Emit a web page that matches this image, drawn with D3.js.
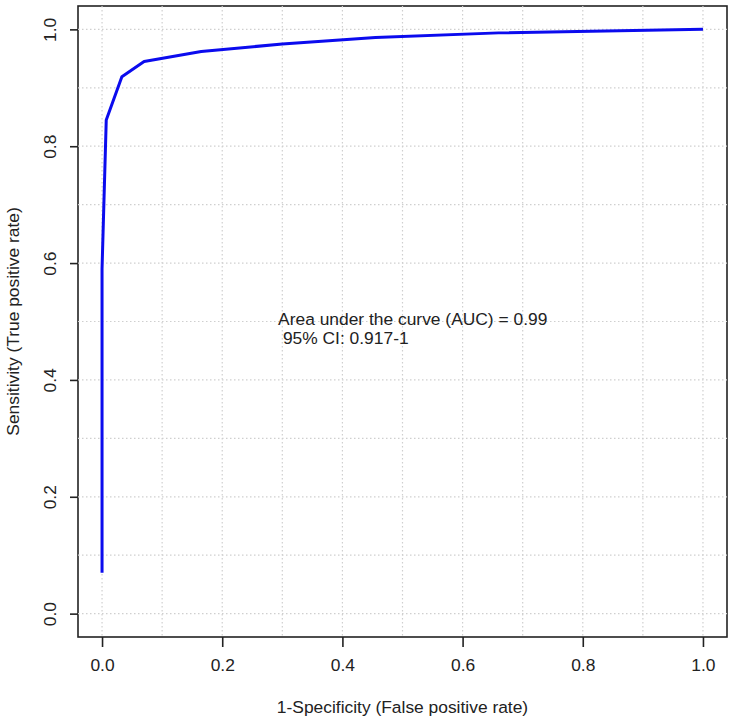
<!DOCTYPE html>
<html>
<head>
<meta charset="utf-8">
<script src="https://cdn.jsdelivr.net/npm/d3@7"></script>
<style>
  body { margin: 0; background: #fff; }
  text { font-family: "Liberation Sans", Arial, sans-serif; fill: #222; }
</style>
</head>
<body>
<div id="chart"></div>
<script>
// ROC curve points
var fpr = [0, 0, 0.007, 0.033, 0.07, 0.165, 0.30, 0.455, 0.66, 1.0];
var tpr = [0.07, 0.59, 0.845, 0.919, 0.945, 0.962, 0.975, 0.986, 0.994, 1.0];

var xTicks = [0, 0.2, 0.4, 0.6, 0.8, 1.0];
var yTicks = [0, 0.2, 0.4, 0.6, 0.8, 1.0];
var gridVals = d3.range(0, 11).map(function(i) { return i / 10; });

var xTitle = "1-Specificity (False positive rate)";
var yTitle = "Sensitivity (True positive rate)";
var aucLines = ["Area under the curve (AUC) = 0.99", " 95% CI: 0.917-1"];
var aucAt = [0.293, 0.494];

var width = 735, height = 723;
var box = {left: 78, right: 727, top: 6, bottom: 637};
var fs = "17.4px";

var svg = d3.select("#chart").append("svg")
    .attr("width", width)
    .attr("height", height);

// R style 4% padding around [0,1]
var x = d3.scaleLinear().domain([-0.04, 1.04]).range([box.left, box.right]);
var y = d3.scaleLinear().domain([-0.04, 1.04]).range([box.bottom, box.top]);

// frame
svg.append("rect")
    .attr("x", box.left)
    .attr("y", box.top)
    .attr("width", box.right - box.left)
    .attr("height", box.bottom - box.top)
    .attr("fill", "none")
    .attr("stroke", "#222")
    .attr("stroke-width", 1.6);

// dotted grid
svg.selectAll(".vgrid")
    .data(gridVals)
    .enter()
    .append("line")
    .attr("class", "vgrid")
    .attr("x1", function(d) { return x(d); })
    .attr("x2", function(d) { return x(d); })
    .attr("y1", box.top)
    .attr("y2", box.bottom)
    .attr("stroke", "#cfcfcf")
    .attr("stroke-width", 1.2)
    .attr("stroke-dasharray", "1.5,2.5");

svg.selectAll(".hgrid")
    .data(gridVals)
    .enter()
    .append("line")
    .attr("class", "hgrid")
    .attr("y1", function(d) { return y(d); })
    .attr("y2", function(d) { return y(d); })
    .attr("x1", box.left)
    .attr("x2", box.right)
    .attr("stroke", "#cfcfcf")
    .attr("stroke-width", 1.2)
    .attr("stroke-dasharray", "1.5,2.5");

// axes
var xAxis = d3.axisBottom(x).tickValues(xTicks).tickSize(10).tickPadding(12)
    .tickFormat(d3.format(".1f"));
var gx = svg.append("g")
    .attr("transform", "translate(0," + box.bottom + ")")
    .call(xAxis);
gx.select(".domain").remove();
gx.selectAll("line").attr("stroke", "#222").attr("stroke-width", 1.6);
gx.selectAll("text").style("font-size", fs).attr("fill", "#222");

var yAxis = d3.axisLeft(y).tickValues(yTicks).tickSize(8).tickPadding(0)
    .tickFormat(d3.format(".1f"));
var gy = svg.append("g")
    .attr("transform", "translate(" + box.left + ",0)")
    .call(yAxis);
gy.select(".domain").remove();
gy.selectAll("line").attr("stroke", "#222").attr("stroke-width", 1.6);
gy.selectAll("text")
    .style("font-size", fs)
    .attr("fill", "#222")
    .attr("x", null)
    .attr("dy", null)
    .attr("text-anchor", "middle")
    .attr("transform", "translate(-22,0) rotate(-90)");

// ROC line
var pts = fpr.map(function(d, i) { return [d, tpr[i]]; });
var line = d3.line()
    .x(function(d) { return x(d[0]); })
    .y(function(d) { return y(d[1]); });

svg.append("path")
    .datum(pts)
    .attr("d", line)
    .attr("fill", "none")
    .attr("stroke", "#0b0bee")
    .attr("stroke-width", 3)
    .attr("stroke-linejoin", "round");

// AUC annotation
var auc = svg.append("text")
    .attr("x", x(aucAt[0]))
    .attr("y", y(aucAt[1]))
    .style("font-size", fs)
    .style("white-space", "pre");
auc.selectAll("tspan")
    .data(aucLines)
    .enter()
    .append("tspan")
    .attr("x", x(aucAt[0]))
    .attr("dy", function(d, i) { return i === 0 ? 0 : 19; })
    .text(function(d) { return d; });

// axis titles
svg.append("text")
    .attr("x", (x(0) + x(1)) / 2)
    .attr("y", 713)
    .attr("text-anchor", "middle")
    .style("font-size", fs)
    .text(xTitle);

svg.append("text")
    .attr("transform", "translate(19," + (y(0) + y(1)) / 2 + ") rotate(-90)")
    .attr("text-anchor", "middle")
    .style("font-size", fs)
    .text(yTitle);
</script>
</body>
</html>
